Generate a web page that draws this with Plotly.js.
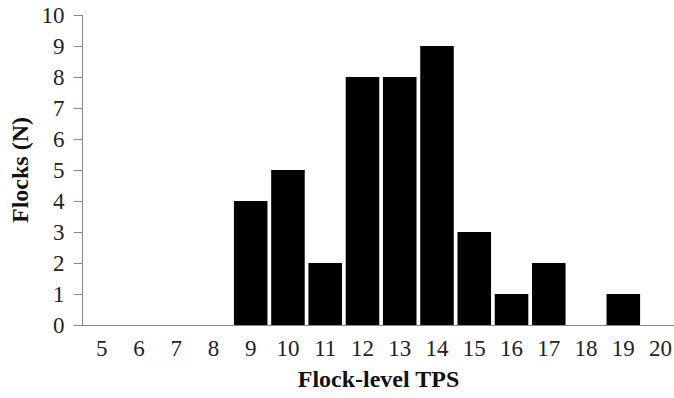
<!DOCTYPE html>
<html>
<head>
<meta charset="utf-8">
<script src="https://cdn.plot.ly/plotly-3.0.1.min.js"></script>
<style>html,body{margin:0;padding:0;background:#fff;}#chart{width:674px;height:398px;}</style>
</head>
<body>
<div id="chart"></div>
<script>
const tpsCategories = [5, 6, 7, 8, 9, 10, 11, 12, 13, 14, 15, 16, 17, 18, 19, 20];
const flockCounts   = [0, 0, 0, 0, 4, 5, 2, 8, 8, 9, 3, 1, 2, 0, 1, 0];
const yTickValues   = [0, 1, 2, 3, 4, 5, 6, 7, 8, 9, 10];
const xTitle = 'Flock-level TPS';
const yTitle = 'Flocks (N)';

const boundaryTicks = tpsCategories.map(v => v - 0.5);
const axisGray = '#888888';
const fontFam = '"Liberation Serif", "Times New Roman", serif';
const xRange = [4.5, 20.36];

const data = [{
  type: 'bar',
  x: tpsCategories,
  y: flockCounts,
  width: 0.9,
  marker: {color: '#000000', line: {width: 0}},
  hoverinfo: 'skip'
}];

const layout = {
  width: 674, height: 398,
  margin: {l: 83, r: 0, t: 15, b: 73},
  paper_bgcolor: '#ffffff', plot_bgcolor: '#ffffff',
  showlegend: false,
  font: {family: fontFam, color: '#222222', size: 23},
  xaxis: {
    range: xRange,
    tickmode: 'array', tickvals: tpsCategories, ticktext: tpsCategories.map(String),
    ticks: '', showgrid: false, zeroline: false,
    showline: true, linecolor: axisGray, linewidth: 1,
    tickfont: {family: fontFam, size: 23, color: '#222222'},
    ticklabelstandoff: 2,
    title: {text: '<b>' + xTitle + '</b>', font: {family: fontFam, size: 24, color: '#111111'}, standoff: 10},
    fixedrange: true
  },
  xaxis2: {
    overlaying: 'x', anchor: 'y', range: xRange,
    tickmode: 'array', tickvals: boundaryTicks,
    ticks: 'outside', ticklen: 8, tickcolor: axisGray, tickwidth: 1,
    showticklabels: false, showgrid: false, zeroline: false, showline: false,
    fixedrange: true
  },
  yaxis: {
    range: [0, 10],
    tickmode: 'array', tickvals: yTickValues,
    ticks: 'outside', ticklen: 8, tickcolor: axisGray, tickwidth: 1,
    showgrid: false, zeroline: false,
    showline: true, linecolor: axisGray, linewidth: 1,
    tickfont: {family: fontFam, size: 23, color: '#222222'},
    ticklabelstandoff: 5,
    title: {text: '<b>' + yTitle + '</b>', font: {family: fontFam, size: 24, color: '#111111'}, standoff: 6},
    fixedrange: true
  }
};

Plotly.newPlot('chart', data, layout, {displayModeBar: false, staticPlot: true});
</script>
</body>
</html>
